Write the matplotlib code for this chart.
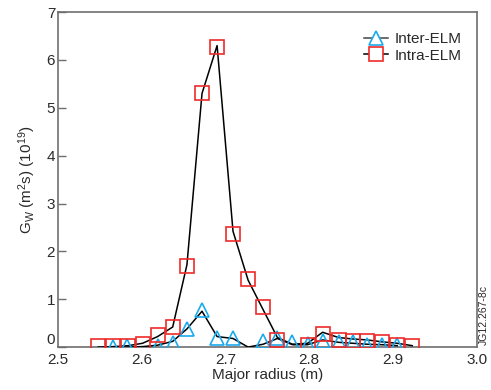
import matplotlib
matplotlib.use("Agg")
import matplotlib.pyplot as plt
from matplotlib.lines import Line2D

plt.rcParams['font.family'] = ['Liberation Sans', 'DejaVu Sans']
plt.rcParams['mathtext.fontset'] = 'custom'
plt.rcParams['mathtext.rm'] = 'Liberation Sans'
plt.rcParams['mathtext.it'] = 'Liberation Sans'

# Intra-ELM measured points
intra_x = [2.548, 2.566, 2.584, 2.601, 2.619, 2.637, 2.654, 2.672, 2.690, 2.709, 2.727,
           2.745, 2.762, 2.798, 2.816, 2.835, 2.852, 2.869, 2.887, 2.905, 2.923]
intra_y = [0.03, 0.02, 0.02, 0.07, 0.26, 0.41, 1.69, 5.30, 6.28, 2.36, 1.42,
           0.84, 0.15, 0.05, 0.28, 0.14, 0.12, 0.12, 0.10, 0.05, 0.03]

# Intra-ELM smoothed curve
intra_fit_x = [2.548, 2.566, 2.584, 2.601, 2.619, 2.637, 2.654, 2.672, 2.690, 2.709, 2.727,
               2.745, 2.762, 2.780, 2.798, 2.816, 2.835, 2.852, 2.869, 2.887, 2.905, 2.923]
intra_fit_y = [0.0, 0.01, 0.03, 0.08, 0.22, 0.42, 1.72, 5.30, 6.30, 2.42, 1.40,
               0.78, 0.20, 0.06, 0.08, 0.31, 0.20, 0.17, 0.15, 0.11, 0.08, 0.03]

# Inter-ELM measured points
inter_x = [2.566, 2.583, 2.619, 2.637, 2.654, 2.672, 2.690, 2.709, 2.745, 2.762,
           2.780, 2.798, 2.816, 2.835, 2.852, 2.869, 2.887, 2.905]
inter_y = [0.01, 0.02, 0.02, 0.09, 0.37, 0.78, 0.18, 0.18, 0.12, 0.20,
           0.10, 0.07, 0.12, 0.10, 0.10, 0.05, 0.05, 0.04]

# Inter-ELM smoothed curve
inter_fit_x = [2.566, 2.583, 2.601, 2.619, 2.637, 2.654, 2.672, 2.690, 2.709, 2.727,
               2.745, 2.762, 2.780, 2.798, 2.816, 2.835, 2.852, 2.869, 2.887, 2.905]
inter_fit_y = [0.0, 0.0, 0.01, 0.04, 0.12, 0.38, 0.75, 0.22, 0.18, 0.0,
               0.06, 0.18, 0.05, 0.05, 0.15, 0.10, 0.08, 0.06, 0.05, 0.03]

xticks = [2.5, 2.6, 2.7, 2.8, 2.9, 3.0]
yticks = [0, 1, 2, 3, 4, 5, 6, 7]

blue = '#1aa9ec'
red = '#ee2a2a'
spine_c = '#6e6e6e'
text_c = '#2a2a2a'

fig = plt.figure(figsize=(4.91, 3.90), dpi=100)
ax = fig.add_axes([0.118, 0.110, 0.853, 0.859])

ax.plot(inter_fit_x, inter_fit_y, color='black', lw=1.1, zorder=3)
ax.plot(intra_fit_x, intra_fit_y, color='black', lw=1.1, zorder=3)
ax.plot(inter_x, inter_y, ls='none', marker='^', ms=10.5, mfc='none', mec=blue, mew=1.2, zorder=4)
ax.plot(intra_x, intra_y, ls='none', marker='s', ms=10.5, mfc='none', mec=red, mew=1.2, zorder=4)

# legend proxies
h1 = Line2D([], [], color='#444444', lw=1.1, marker='^', ms=10, mfc='white', mec=blue, mew=1.2)
h2 = Line2D([], [], color='black', lw=1.1, marker='s', ms=10, mfc='white', mec=red, mew=1.2)
leg = ax.legend([h1, h2], ['Inter-ELM', 'Intra-ELM'], loc='upper right', frameon=False,
                fontsize=11, handlelength=1.6, handletextpad=0.4, labelspacing=0.15,
                borderaxespad=0.6, bbox_to_anchor=(1.0, 0.985))
for t in leg.get_texts():
    t.set_color(text_c)

ax.set_xlim(2.5, 3.0)
ax.set_ylim(0, 7)
ax.set_xticks(xticks)
ax.set_xticklabels([f'{v:.1f}' for v in xticks])
ax.set_yticks(yticks)
ax.tick_params(axis='both', direction='in', length=6, width=1, colors=spine_c,
               labelcolor=text_c, labelsize=11, pad=2)
ax.tick_params(axis='x', length=0, pad=4)
ylabels = ax.get_yticklabels()
ylabels[0].set_verticalalignment('bottom')
for s in ax.spines.values():
    s.set_color(spine_c)
    s.set_linewidth(1.2)

ax.set_xlabel('Major radius (m)', fontsize=11, color=text_c, labelpad=1)
ax.set_ylabel(r'G$_\mathregular{W}$ (m$^\mathregular{2}$s) (10$^\mathregular{19}$)',
              fontsize=11, color=text_c, labelpad=6)

fig.text(0.985, 0.115, 'JG12.267-8c', rotation=90, fontsize=7.5, color=text_c,
         ha='center', va='bottom')

fig.savefig('out.png', dpi=100)
